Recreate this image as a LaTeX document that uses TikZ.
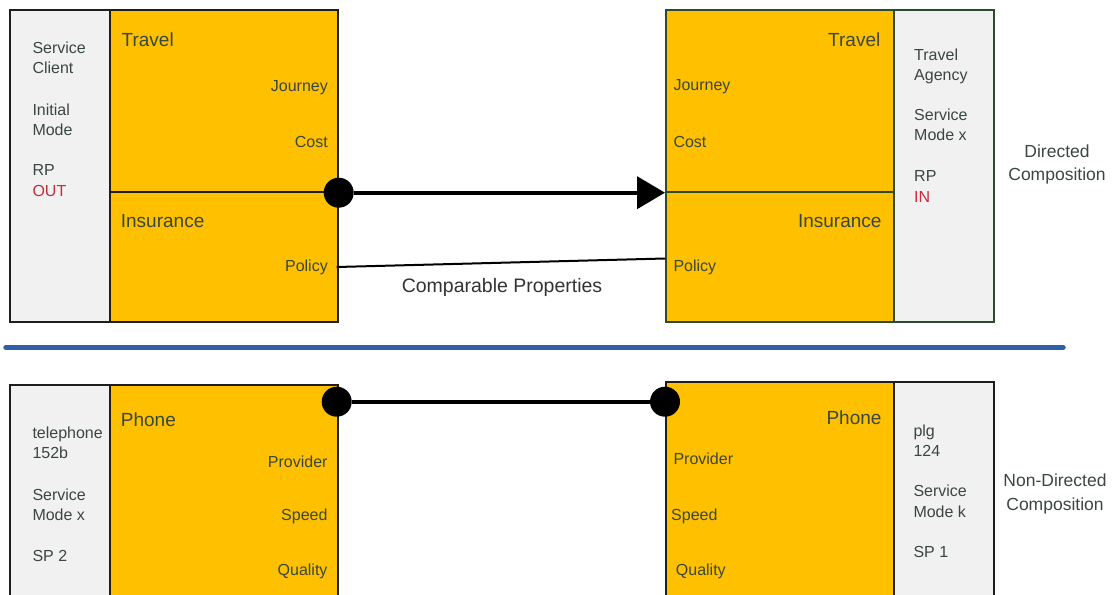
\documentclass[tikz,border=0pt]{standalone}
\usepackage{fontspec}
\setmainfont{Liberation Sans}
\usetikzlibrary{arrows.meta}
\definecolor{amber}{HTML}{FFC000}
\definecolor{panel}{HTML}{F1F1F1}
\definecolor{ink}{HTML}{3A4740}
\definecolor{redink}{HTML}{CC2A3C}
\definecolor{bord}{HTML}{1E1E1E}
\definecolor{gbord}{HTML}{2C4A2C}
\definecolor{rulecol}{HTML}{2F5FA5}
\tikzset{
  box/.style={draw=bord, line width=2pt, inner sep=0pt, anchor=north west},
  gbox/.style={box, draw=gbord},
  lab/.style={font=\fontsize{16}{19}\selectfont, text=ink, inner sep=0pt},
  labL/.style={lab, anchor=base west},
  labR/.style={lab, anchor=base east},
  ttlL/.style={font=\fontsize{19}{22}\selectfont, text=ink, inner sep=0pt, anchor=base west},
  ttlR/.style={font=\fontsize{19}{22}\selectfont, text=ink, inner sep=0pt, anchor=base east},
  side/.style={font=\fontsize{17.5}{21}\selectfont, text=ink, inner sep=0pt, anchor=base},
  joint/.style={circle, fill=black, minimum size=30pt, inner sep=0pt},
  conn/.style={draw=black, line width=4pt},
  thinconn/.style={draw=black, line width=2pt},
}
\begin{document}
\begin{tikzpicture}[x=1pt,y=-1pt]
\useasboundingbox (0,0) rectangle (1115,594);
\clip (0,0) rectangle (1115,594);
% ---------- top left: Service Client ----------
\node[box, fill=panel, minimum width=100pt, minimum height=311.4pt] (TLg) at (9.3,9.3) {};
\node[box, fill=amber, minimum width=227.4pt, minimum height=181.4pt] (TLa) at (109.3,9.3) {};
\node[box, fill=amber, minimum width=227.4pt, minimum height=130pt] (TLb) at (109.3,190.7) {};
% ---------- top right: Travel Agency ----------
\node[gbox, fill=amber, minimum width=228.3pt, minimum height=181.4pt] (TRa) at (665,9.3) {};
\node[gbox, fill=amber, minimum width=228.3pt, minimum height=130pt] (TRb) at (665,190.7) {};
\node[gbox, fill=panel, minimum width=99.4pt, minimum height=311.4pt] (TRg) at (893.3,9.3) {};
% ---------- bottom left ----------
\node[box, fill=panel, minimum width=100pt, minimum height=216pt] (BLg) at (9.3,384) {};
\node[box, fill=amber, minimum width=227.4pt, minimum height=216pt] (BLa) at (109.3,384) {};
% ---------- bottom right ----------
\node[box, fill=amber, minimum width=228.3pt, minimum height=219.3pt] (BRa) at (665,380.7) {};
\node[box, fill=panel, minimum width=99.4pt, minimum height=219.3pt] (BRg) at (893.3,380.7) {};

% ---------- texts top left ----------
\node[labL] (t1) at (32.3,53) {Service};
\node[labL] (t2) at (32.3,73.5) {Client};
\node[labL] (t3) at (32.3,115.5) {Initial};
\node[labL] (t4) at (32.3,135) {Mode};
\node[labL] (t5) at (32.3,175.7) {RP};
\node[labL, text=redink] (t6) at (32.3,196.5) {OUT};
\node[ttlL] (t7) at (121.5,46) {Travel};
\node[labR] (t8) at (328,91) {Journey};
\node[labR] (t9) at (328,147.7) {Cost};
\node[ttlL] (t10) at (120.7,227.7) {Insurance};
\node[labR] (t11) at (328,271.5) {Policy};
% ---------- texts top right ----------
\node[ttlR] (r1) at (880.5,46.5) {Travel};
\node[labL] (r2) at (673.3,90.7) {Journey};
\node[labL] (r3) at (673.3,147.7) {Cost};
\node[ttlR] (r4) at (881.7,227.7) {Insurance};
\node[labL] (r5) at (673.3,271.5) {Policy};
\node[labL] (r6) at (914,60) {Travel};
\node[labL] (r7) at (914,80.5) {Agency};
\node[labL] (r8) at (914,120.7) {Service};
\node[labL] (r9) at (914,140.7) {Mode x};
\node[labL] (r10) at (914,181.7) {RP};
\node[labL, text=redink] (r11) at (914,202.3) {IN};
\node[side] (d1) at (1057,157.3) {Directed};
\node[side] (d2) at (1057,180.7) {Composition};
% ---------- texts bottom left ----------
\node[ttlL] (b1) at (120.7,426.7) {Phone};
\node[labL] (b2) at (32.3,438.3) {telephone};
\node[labL] (b3) at (32.3,458.5) {152b};
\node[labL] (b4) at (32.3,500) {Service};
\node[labL] (b5) at (32.3,520.5) {Mode x};
\node[labL] (b6) at (32.3,561) {SP 2};
\node[labR] (b7) at (327.7,467.7) {Provider};
\node[labR] (b8) at (327.7,520.5) {Speed};
\node[labR] (b9) at (327.7,575) {Quality};
% ---------- texts bottom right ----------
\node[ttlR] (c1) at (881.7,424) {Phone};
\node[labL] (c2) at (913.3,436) {plg};
\node[labL] (c3) at (913.3,456.3) {124};
\node[labL] (c4) at (913.3,496.7) {Service};
\node[labL] (c5) at (913.3,517.3) {Mode k};
\node[labL] (c6) at (913.3,557.7) {SP 1};
\node[labL] (c7) at (673.3,464.3) {Provider};
\node[labL] (c8) at (671,520.5) {Speed};
\node[labL] (c9) at (675.7,575) {Quality};
\node[side] (n1) at (1055,486.7) {Non-Directed};
\node[side] (n2) at (1055,510) {Composition};

% ---------- connectors ----------
\node[joint] (j1) at (TLa.south east) {};
\node[joint] (j3) at (336.7,401.7) {};
\node[joint] (j4) at (665,401.7) {};
\draw[conn, -{Triangle[length=28pt,width=32pt]}] (j1) -- (TRa.south west);
\coordinate (pl) at (336.7,267);
\coordinate (pr) at (665,258.5);
\draw[thinconn] (pl) -- (pr);
\node[font=\fontsize{19.5}{23}\selectfont, text=black!80, inner sep=0pt, anchor=base] (cp) at (502,292) {Comparable Properties};
\draw[conn] (j3) -- (j4);
\coordinate (ra) at (6,347.3);
\coordinate (rb) at (1063,347.3);
\draw[rulecol, line width=5.5pt, line cap=round] (ra) -- (rb);
\end{tikzpicture}
\end{document}
